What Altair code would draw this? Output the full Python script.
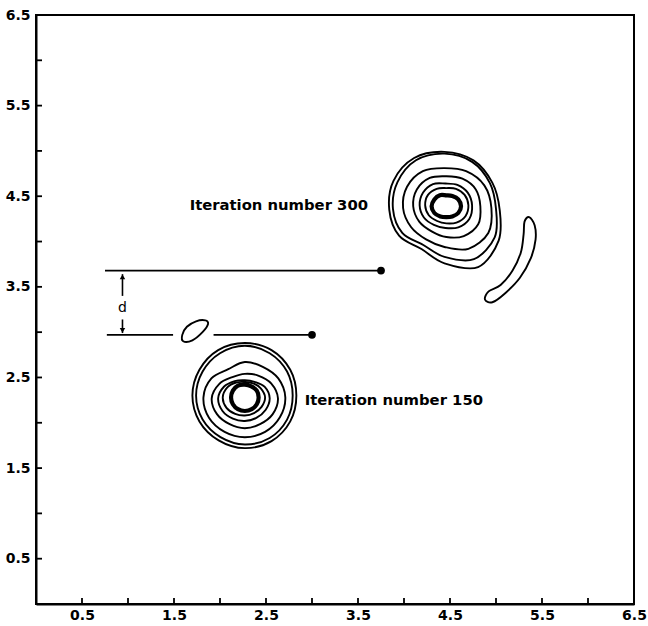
import math
import altair as alt
import pandas as pd

# ---------------- data ----------------
AXIS_LABEL_VALUES = [0.5, 1.5, 2.5, 3.5, 4.5, 5.5, 6.5]
MINOR_TICKS = [0.5, 1.0, 1.5, 2.0, 2.5, 3.0, 3.5, 4.0, 4.5, 5.0, 5.5, 6.0]

# contour rings given as radii (data units) at fixed angles round a centre
ANGLES = [0, 30, 60, 90, 120, 150, 180, 210, 240, 270, 300, 330]

LOW_CENTERS = [(2.27, 2.30), (2.27, 2.30), (2.27, 2.28), (2.27, 2.27),
               (2.27, 2.27), (2.27, 2.28)]
LOW_RINGS = [
    [0.56, 0.57, 0.58, 0.58, 0.58, 0.57, 0.57, 0.57, 0.57, 0.58, 0.58, 0.57],
    [0.52, 0.53, 0.54, 0.55, 0.54, 0.53, 0.53, 0.53, 0.53, 0.54, 0.54, 0.53],
    [0.44, 0.42, 0.39, 0.39, 0.36, 0.42, 0.45, 0.45, 0.44, 0.44, 0.44, 0.44],
    [0.36, 0.33, 0.29, 0.27, 0.27, 0.32, 0.36, 0.35, 0.33, 0.33, 0.33, 0.35],
    [0.27, 0.25, 0.21, 0.20, 0.22, 0.26, 0.29, 0.28, 0.26, 0.25, 0.25, 0.26],
    [0.22, 0.20, 0.18, 0.17, 0.19, 0.22, 0.24, 0.23, 0.21, 0.20, 0.20, 0.21],
]
LOW_CORE_CENTER = (2.27, 2.28)
LOW_CORE = [0.15, 0.15, 0.14, 0.14, 0.15, 0.15, 0.15, 0.15, 0.15, 0.15, 0.15, 0.15]

UP_CENTERS = [(4.44, 4.35), (4.44, 4.36), (4.44, 4.37), (4.46, 4.39),
              (4.45, 4.40), (4.46, 4.40)]
UP_RINGS = [
    [0.60, 0.60, 0.63, 0.64, 0.66, 0.64, 0.60, 0.57, 0.50, 0.59, 0.73, 0.68],
    [0.56, 0.57, 0.60, 0.61, 0.62, 0.59, 0.56, 0.53, 0.46, 0.53, 0.64, 0.63],
    [0.51, 0.50, 0.47, 0.44, 0.47, 0.47, 0.45, 0.42, 0.40, 0.43, 0.52, 0.55],
    [0.37, 0.37, 0.35, 0.33, 0.36, 0.37, 0.36, 0.34, 0.32, 0.34, 0.38, 0.40],
    [0.29, 0.28, 0.26, 0.24, 0.27, 0.28, 0.28, 0.27, 0.25, 0.25, 0.28, 0.30],
    [0.24, 0.23, 0.21, 0.19, 0.21, 0.23, 0.23, 0.22, 0.20, 0.20, 0.22, 0.24],
]
UP_CORE_CENTER = (4.46, 4.39)
UP_CORE = [0.16, 0.15, 0.13, 0.12, 0.14, 0.15, 0.16, 0.15, 0.13, 0.12, 0.13, 0.15]

BLOB_X = [1.60, 1.59, 1.64, 1.74, 1.84, 1.87, 1.81, 1.70]
BLOB_Y = [2.90, 2.97, 3.06, 3.12, 3.13, 3.09, 3.00, 2.91]

CRESCENT_X = [5.36, 5.42, 5.43, 5.38, 5.26, 5.10, 4.96, 4.88, 4.92, 5.05, 5.18, 5.27, 5.30, 5.31]
CRESCENT_Y = [4.27, 4.18, 4.02, 3.82, 3.60, 3.43, 3.33, 3.36, 3.45, 3.52, 3.68, 3.88, 4.08, 4.22]

# horizontal marker lines (segments) and their end dots
SEG_X1 = [0.75, 0.77, 1.93]
SEG_X2 = [3.75, 1.49, 3.00]
SEG_Y = [3.68, 2.97, 2.97]
DOT_X = [3.75, 3.00]
DOT_Y = [3.68, 2.97]

# "d" distance arrow
ARROW_X = 0.94
ARROW_SHAFT_Y1 = [3.64, 2.99]
ARROW_SHAFT_Y2 = [3.40, 3.14]

LABELS = ["Iteration number 300", "Iteration number 150"]
LABEL_X = [1.67, 2.92]
LABEL_Y = [4.39, 2.24]

# ---------------- build tables ----------------
def rings_table(centers, rings, prefix):
    rows = []
    for i, (c, radii) in enumerate(zip(centers, rings)):
        for k, (a, r) in enumerate(zip(ANGLES, radii)):
            t = math.radians(a)
            rows.append({"ring": f"{prefix}{i}", "o": k,
                         "x": c[0] + r * math.cos(t), "y": c[1] + r * math.sin(t)})
    return rows

thin_rows = rings_table(LOW_CENTERS, LOW_RINGS, "L") + rings_table(UP_CENTERS, UP_RINGS, "U")
for k, (x, y) in enumerate(zip(BLOB_X, BLOB_Y)):
    thin_rows.append({"ring": "blob", "o": k, "x": x, "y": y})
for k, (x, y) in enumerate(zip(CRESCENT_X, CRESCENT_Y)):
    thin_rows.append({"ring": "cres", "o": k, "x": x, "y": y})
thin_df = pd.DataFrame(thin_rows)

core_df = pd.DataFrame(rings_table([LOW_CORE_CENTER], [LOW_CORE], "LC")
                       + rings_table([UP_CORE_CENTER], [UP_CORE], "UC"))

seg_df = pd.DataFrame({"x": SEG_X1, "x2": SEG_X2, "y": SEG_Y})
dot_df = pd.DataFrame({"x": DOT_X, "y": DOT_Y})
shaft_df = pd.DataFrame({"x": [ARROW_X, ARROW_X], "y": ARROW_SHAFT_Y1, "y2": ARROW_SHAFT_Y2})
head_up_df = pd.DataFrame({"x": [ARROW_X], "y": [ARROW_SHAFT_Y1[0] - 0.03]})
head_dn_df = pd.DataFrame({"x": [ARROW_X], "y": [ARROW_SHAFT_Y1[1] + 0.03]})
d_df = pd.DataFrame({"x": [ARROW_X], "y": [3.27], "t": ["d"]})
lab_df = pd.DataFrame({"x": LABEL_X, "y": LABEL_Y, "t": LABELS})
tick_df = pd.DataFrame({"v": MINOR_TICKS})

W, H = 598, 589
DOM = [0, 6.5]

xs = alt.Scale(domain=DOM, nice=False, zero=False)
ys = alt.Scale(domain=DOM, nice=False, zero=False)

axis_common = dict(values=AXIS_LABEL_VALUES, format=".1f", grid=False, tickSize=0, title=None,
                   labelFont="DejaVu Sans", labelFontWeight="bold", labelFontSize=14,
                   labelColor="black", domainColor="black", domainWidth=2,
                   labelFlush=False, labelOverlap=False, labelBound=False)

X = lambda f="x": alt.X(f"{f}:Q", scale=xs, axis=alt.Axis(labelPadding=4, **axis_common))
Y = lambda f="y": alt.Y(f"{f}:Q", scale=ys, axis=alt.Axis(labelPadding=6, **axis_common))

thin = alt.Chart(thin_df).mark_line(interpolate="cardinal-closed", color="black",
                                    strokeWidth=1.9).encode(
    x=X(), y=Y(), detail="ring:N", order="o:Q")
core = alt.Chart(core_df).mark_line(interpolate="cardinal-closed", color="black",
                                    strokeWidth=4.2).encode(
    x=X(), y=Y(), detail="ring:N", order="o:Q")

segs = alt.Chart(seg_df).mark_rule(color="black", strokeWidth=1.8).encode(
    x=X(), x2="x2:Q", y=Y())
dots = alt.Chart(dot_df).mark_circle(color="black", size=60, opacity=1).encode(x=X(), y=Y())
shafts = alt.Chart(shaft_df).mark_rule(color="black", strokeWidth=1.6).encode(
    x=X(), y=Y(), y2="y2:Q")
head_up = alt.Chart(head_up_df).mark_point(shape="triangle-up", filled=True, color="black",
                                           size=30, opacity=1).encode(x=X(), y=Y())
head_dn = alt.Chart(head_dn_df).mark_point(shape="triangle-down", filled=True, color="black",
                                           size=30, opacity=1).encode(x=X(), y=Y())
dtext = alt.Chart(d_df).mark_text(font="DejaVu Sans", fontSize=14, color="black").encode(
    x=X(), y=Y(), text="t:N")
labels = alt.Chart(lab_df).mark_text(font="DejaVu Sans", fontWeight="bold", fontSize=14.8,
                                     align="left", baseline="middle", color="black").encode(
    x=X(), y=Y(), text="t:N")

xticks = alt.Chart(tick_df).mark_rule(color="black", strokeWidth=1.8).encode(
    x=alt.X("v:Q", scale=xs, axis=alt.Axis(labelPadding=4, **axis_common)),
    y=alt.value(H), y2=alt.value(H - 6))
yticks = alt.Chart(tick_df).mark_rule(color="black", strokeWidth=1.8).encode(
    y=alt.Y("v:Q", scale=ys, axis=alt.Axis(labelPadding=6, **axis_common)),
    x=alt.value(0), x2=alt.value(6))

chart = alt.layer(xticks, yticks, thin, core, segs, dots, shafts, head_up, head_dn,
                  dtext, labels).properties(
    width=W, height=H,
    autosize=alt.AutoSizeParams(type="none"),
    padding={"left": 36, "top": 15, "right": 14, "bottom": 22},
    background="white",
).configure_view(stroke="black", strokeWidth=2)

chart.save("out.html", embed_options={"renderer": "svg", "actions": False})
